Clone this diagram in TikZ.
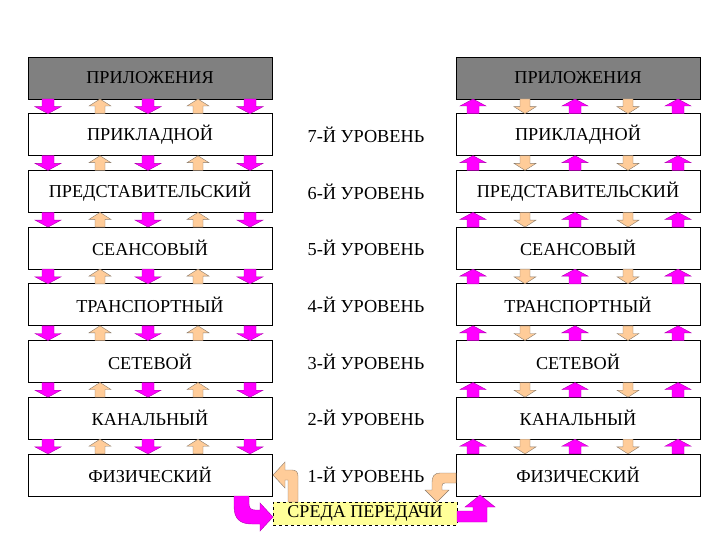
\documentclass[tikz,border=0pt]{standalone}
\usepackage{fontspec}
\setmainfont{Liberation Serif}
\definecolor{mag}{HTML}{FF00FF}
\definecolor{magd}{HTML}{B000B0}
\definecolor{peach}{HTML}{FFCC99}
\definecolor{peachd}{HTML}{8A7A6A}
\definecolor{boxgray}{HTML}{808080}
\definecolor{sreda}{HTML}{FFFF99}
\tikzset{
  layerbox/.style={draw=black, line width=0.8pt, fill=white, minimum width=244pt, minimum height=42pt, inner sep=0pt, font=\fontsize{18.2}{21}\selectfont},
  appbox/.style={layerbox, fill=boxgray},
  lvl/.style={font=\fontsize{18.3}{21}\selectfont, inner sep=0pt},
  medium/.style={draw=black, dashed, line width=0.8pt, fill=sreda, minimum width=184pt, minimum height=23pt, inner sep=0pt, font=\fontsize{18}{21}\selectfont},
  magarr/.style={fill=mag, draw=magd, line width=0.4pt},
  peacharr/.style={fill=peach, draw=peachd, line width=0.4pt},
}
% x, y start, y tip, style, shaft half width, head half width
\newcommand\arrDn[6]{\filldraw[#4] ({#1-#5},#2) -- ({#1+#5},#2) -- ({#1+#5},{#3-7}) -- ({#1+#6},{#3-7}) -- (#1,#3) -- ({#1-#6},{#3-7}) -- ({#1-#5},{#3-7}) -- cycle;}
\newcommand\arrUpw[6]{\filldraw[#4] ({#1-#5},#2) -- ({#1+#5},#2) -- ({#1+#5},{#3+7}) -- ({#1+#6},{#3+7}) -- (#1,#3) -- ({#1-#6},{#3+7}) -- ({#1-#5},{#3+7}) -- cycle;}
\begin{document}
\begin{tikzpicture}[x=1pt,y=-1pt]
\useasboundingbox (0,0) rectangle (720,540);
% boxes
\node[appbox] (L0) at (150,78) {ПРИЛОЖЕНИЯ};
\node[appbox] (R0) at (578,78) {ПРИЛОЖЕНИЯ};
\foreach \i/\name/\lv in {1/ПРИКЛАДНОЙ/7,2/ПРЕДСТАВИТЕЛЬСКИЙ/6,3/СЕАНСОВЫЙ/5,4/ТРАНСПОРТНЫЙ/4,5/СЕТЕВОЙ/3,6/КАНАЛЬНЫЙ/2,7/ФИЗИЧЕСКИЙ/1}{
  \pgfmathsetmacro\yc{78+56.7*\i}
  \node[layerbox] (L\i) at (150,\yc) {\name};
  \node[layerbox] (R\i) at (578,\yc) {\name};
  \node[lvl] (M\i) at (366,\yc) {\lv-Й УРОВЕНЬ};
}
% arrows between layers
\foreach \i in {0,...,6}{
  \pgfmathsetmacro\ya{57+56.7*\i+42}
  \pgfmathsetmacro\yb{57+56.7*(\i+1)}
  \arrDn{48}{\ya}{\yb}{magarr}{6}{13}
  \arrDn{148}{\ya}{\yb}{magarr}{6}{13}
  \arrDn{250}{\ya}{\yb}{magarr}{6}{13}
  \arrUpw{100}{\yb}{\ya}{peacharr}{5}{11}
  \arrUpw{198}{\yb}{\ya}{peacharr}{5}{11}
  \arrUpw{473}{\yb}{\ya}{magarr}{6}{13}
  \arrUpw{575}{\yb}{\ya}{magarr}{6}{13}
  \arrUpw{678}{\yb}{\ya}{magarr}{6}{13}
  \arrDn{525}{\ya}{\yb}{peacharr}{5}{11}
  \arrDn{628}{\ya}{\yb}{peacharr}{5}{11}
}
% transmission medium
\node[medium] (S) at (365,513.5) {СРЕДА ПЕРЕДАЧИ};
% bent arrows
\filldraw[magarr] (234,496) -- (234,506) .. controls (234,519) and (240,524) .. (252,524) -- (260,524) -- (260,531) -- (273,517) -- (260,503) -- (260,510) -- (255,510) .. controls (251,510) and (249,508) .. (249,504) -- (249,496) -- cycle;
\filldraw[peacharr] (288,502) -- (288,480) -- (285,480) -- (285,488) -- (273,475) -- (285,462) -- (285,470) -- (292,470) .. controls (296,470) and (298,472) .. (298,476) -- (298,502) -- cycle;
\filldraw[peacharr] (456,473) -- (440,473) .. controls (434,473) and (432,477) .. (432,482) -- (432,490) -- (425,490) -- (437,502) -- (449,490) -- (442,490) -- (442,486) .. controls (442,484) and (443,483) .. (445,483) -- (456,483) -- cycle;
\filldraw[magarr] (457,511) -- (473,511) -- (473,507) -- (465,507) -- (480,495) -- (495,507) -- (487,507) -- (487,522) -- (457,522) -- cycle;
\end{tikzpicture}
\end{document}
